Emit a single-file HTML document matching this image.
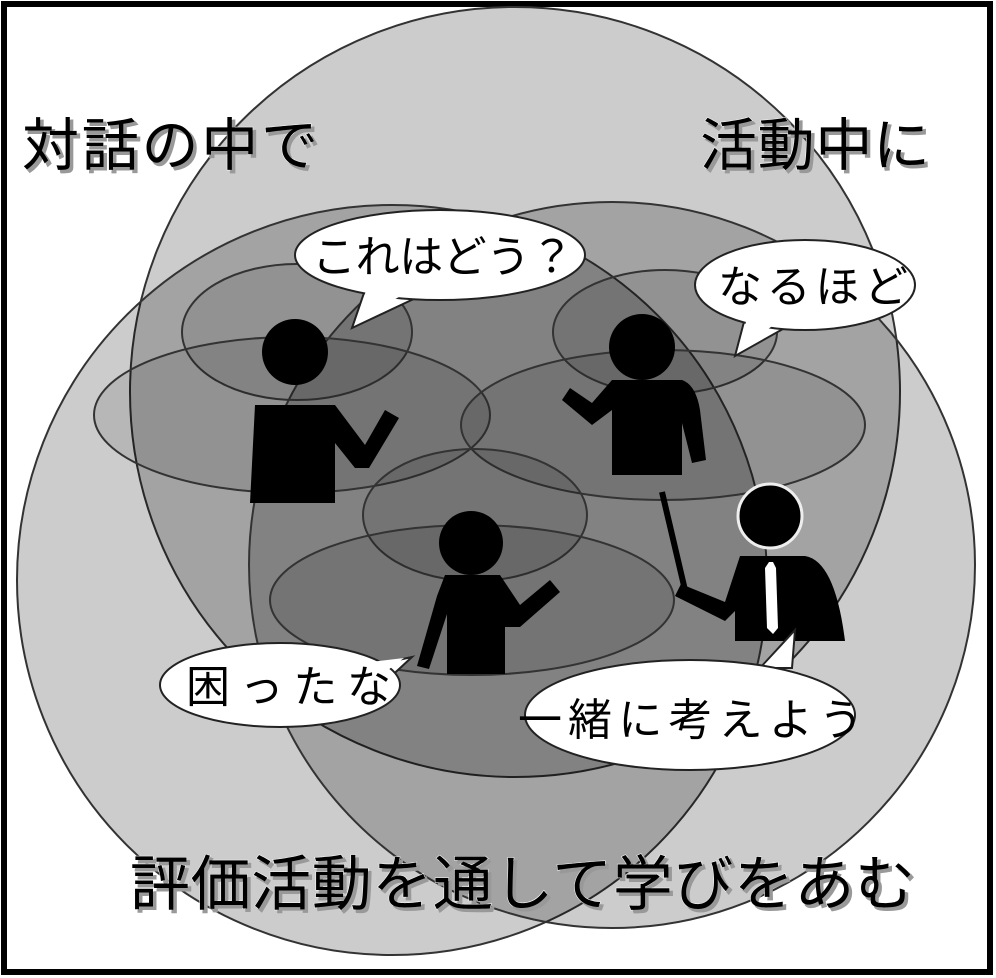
<!DOCTYPE html>
<html><head><meta charset="utf-8"><style>
html,body{margin:0;padding:0;background:#fff;}
svg{display:block}
text{font-family:"Liberation Sans","Noto Sans CJK JP",sans-serif;}
</style></head><body>
<svg width="996" height="978" viewBox="0 0 996 978" xmlns="http://www.w3.org/2000/svg">
<rect x="4" y="4" width="986" height="968" fill="#fff" stroke="#000" stroke-width="6"/>
<g stroke="#333" stroke-width="2">
<circle cx="515" cy="392" r="385" fill="rgba(0,0,0,0.2)"/>
<circle cx="392" cy="580" r="375" fill="rgba(0,0,0,0.2)"/>
<circle cx="612" cy="565" r="363" fill="rgba(0,0,0,0.2)"/>
<ellipse cx="297" cy="332" rx="115" ry="68" fill="rgba(0,0,0,0.1)"/>
<ellipse cx="292" cy="415" rx="198" ry="78" fill="rgba(0,0,0,0.1)"/>
<ellipse cx="665" cy="332" rx="112" ry="62" fill="rgba(0,0,0,0.1)"/>
<ellipse cx="663" cy="425" rx="202" ry="75" fill="rgba(0,0,0,0.1)"/>
<ellipse cx="475" cy="515" rx="112" ry="66" fill="rgba(0,0,0,0.1)"/>
<ellipse cx="472" cy="600" rx="202" ry="75" fill="rgba(0,0,0,0.1)"/>
</g>
<!-- people -->
<g fill="#000">
<circle cx="295" cy="352" r="33"/>
<path d="M255 405 h80 l30 40 l20 -35 l14 8 l-30 50 l-14 0 l-20 -25 v60 h-85 z"/>
<circle cx="642" cy="347" r="33"/>
<path d="M612 380 h70 q14 5 18 30 l6 50 l-14 3 l-10 -40 v52 h-70 v-65 l-20 15 l-30 -25 l8 -12 l22 15 z"/>
<circle cx="471" cy="543" r="32"/>
<path d="M445 575 h55 l20 30 l30 -25 l10 12 l-40 35 l-15 0 v47 h-58 v-60 l-18 55 l-12 -3 l20 -70 z"/>
<line x1="662" y1="492" x2="685" y2="590" stroke="#000" stroke-width="6"/>
<circle cx="770" cy="516" r="32" stroke="#eee" stroke-width="3"/>
<path d="M740 556 h65 q30 5 40 85 h-110 v-30 l-10 10 l-50 -25 l6 -12 l44 18 z"/>
<path d="M769 562 l-4 6 l2 60 l6 6 l5 -6 l-2 -60 l-3 -6 z" fill="#fff"/>
</g>
<!-- bubbles -->
<g fill="#fff" stroke="#222" stroke-width="2">
<polygon points="365,290 352,328 420,296"/>
<ellipse cx="440" cy="255" rx="145" ry="45"/>
<polygon points="745,318 735,356 790,325"/>
<ellipse cx="805" cy="285" rx="110" ry="45"/>
<polygon points="375,665 412,657 385,682"/>
<ellipse cx="280" cy="685" rx="120" ry="42"/>
<polygon points="760,668 795,630 792,668"/>
<ellipse cx="690" cy="715" rx="165" ry="55"/>
</g>
<g fill="#fff">
<polygon points="368,285 356,320 412,290"/>
<polygon points="748,314 739,349 784,318"/>
<polygon points="370,662 404,658 380,676"/>
<polygon points="765,664 792,636 790,664"/>
</g>
<g font-size="44" fill="#000">
<text x="312" y="272" textLength="262">これはどう？</text>
<text x="718" y="302" textLength="190">なるほど</text>
<text x="186" y="702" textLength="205">困ったな</text>
<text x="518" y="735" textLength="345">一緒に考えよう</text>
</g>
<g fill="#000" stroke="#fff" stroke-width="1" style="paint-order:stroke">
<text x="22" y="165" font-size="57" textLength="296" style="text-shadow:3px 3px 0 #999">対話の中で</text>
<text x="700" y="165" font-size="57" textLength="230" style="text-shadow:3px 3px 0 #999">活動中に</text>
<text x="130" y="905" font-size="60" style="text-shadow:3px 3px 0 #999" textLength="785">評価活動を通して学びをあむ</text>
</g>
</svg>
</body></html>
